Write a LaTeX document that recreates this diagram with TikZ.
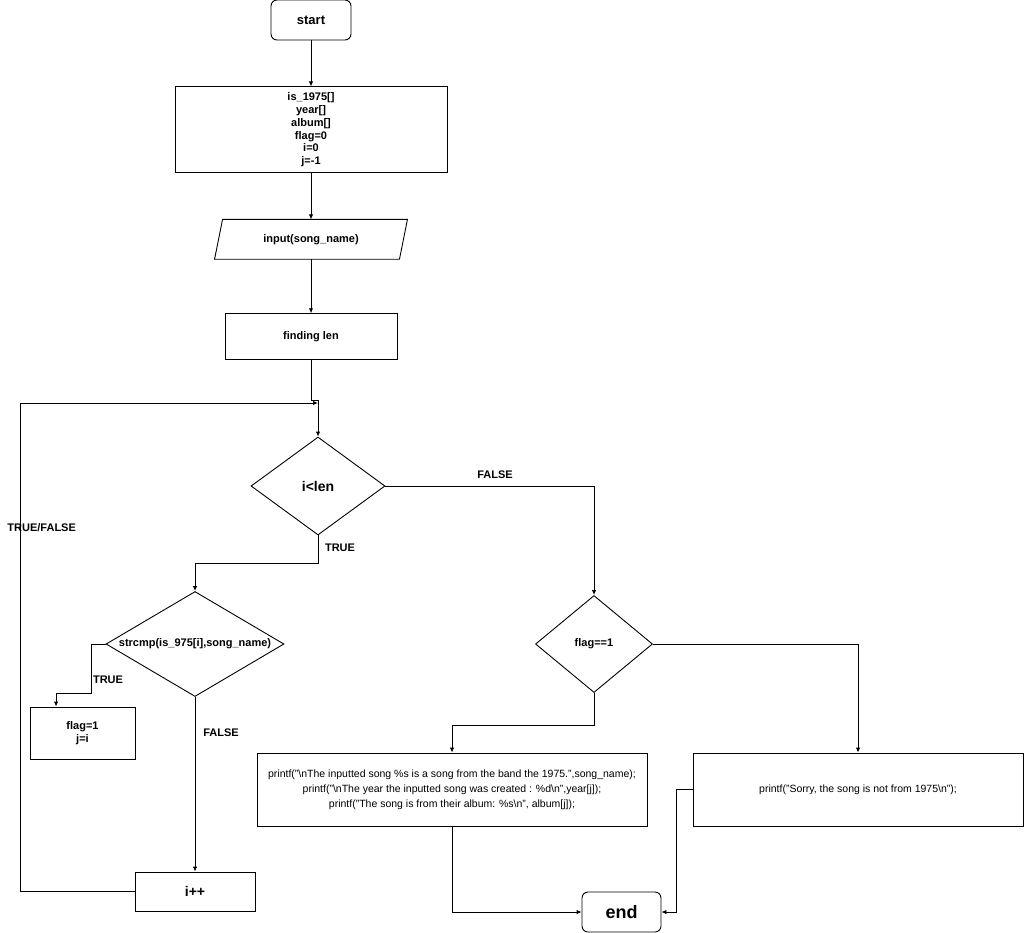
\documentclass[tikz,border=0pt]{standalone}
\usepackage{fontspec}
\setmainfont{Liberation Sans}
\usepackage{tikz}
\usetikzlibrary{arrows.meta, positioning, shapes.geometric, calc}

\newcommand{\fsz}[2]{\fontsize{#1}{#2}\selectfont}

\begin{document}
\begin{tikzpicture}[
  x=1pt, y=1pt,
  line width=0.9pt,
  box/.style={draw, align=center, inner sep=0pt, font=\fsz{11}{12.8}\bfseries},
  term/.style={draw, rounded corners=6pt, inner sep=0pt, font=\fsz{13}{15}\bfseries},
  io/.style={inner sep=0pt, font=\fsz{11}{12.8}\bfseries},
  decision/.style={draw, diamond, inner sep=0pt, font=\fsz{11}{12.8}\bfseries},
  msgbox/.style={draw, align=center, inner sep=0pt, font=\fsz{10.5}{15}},
  lbl/.style={inner sep=0pt, font=\fsz{11}{12.8}\bfseries},
  arrow/.style={-{Latex[length=5pt, width=4.5pt]}}
]
\useasboundingbox (0,0) rectangle (1024,-932);

% main column
\node[term, minimum width=80pt, minimum height=40pt] (start) at (311,-20) {start};
\node[box, minimum width=272pt, minimum height=86pt, below=46pt of start] (init) {is\_1975[]\\year[]\\album[]\\flag=0\\i=0\\j=-1};
\node[io, minimum width=192pt, minimum height=39pt, below=46pt of init] (input) {input(song\_name)};
\draw ($(input.north west)+(8,0)$) -- (input.north east) -- ($(input.south east)+(-8,0)$) -- (input.south west) -- cycle;
\node[box, minimum width=172pt, minimum height=46pt, below=54pt of input] (len) {finding len};

% loop
\node[decision, minimum width=134pt, minimum height=98pt, aspect=1.37] (cond) at (318,-486) {\fsz{14}{16}i<len};
\node[decision, minimum width=178pt, minimum height=105pt, aspect=1.7] (cmp) at (195,-644) {strcmp(is\_975[i],song\_name)};
\node[box, minimum width=105pt, minimum height=52pt] (set) at (82.5,-733) {flag=1\\j=i};
\node[box, minimum width=120pt, minimum height=39pt, font=\fsz{14}{16}\bfseries] (inc) at (195,-891.5) {i++};
\coordinate (loopin) at (318,-403);

% result
\node[decision, minimum width=117pt, minimum height=97pt, aspect=1.2] (chk) at (594,-644) {flag==1};
\node[msgbox, minimum width=390pt, minimum height=73pt] (msg) at (452,-789.5) {printf("\textbackslash nThe inputted song \%s is a song from the band the 1975.",song\_name);\\printf("\textbackslash nThe year the inputted song was created : \%d\textbackslash n",year[j]);\\printf("The song is from their album: \%s\textbackslash n", album[j]);};
\node[msgbox, minimum width=330pt, minimum height=73pt] (sorry) at (858,-789.5) {printf("Sorry, the song is not from 1975\textbackslash n");};
\node[term, minimum width=79pt, minimum height=40pt, font=\fsz{18}{20}\bfseries] (end) at (621.5,-912) {end};

\draw[arrow] (start) -- (init);
\draw[arrow] (init) -- (input);
\draw[arrow] (input) -- (len);
\draw[arrow] (len.south) -- ++(0,-40) -| (cond.north);
\draw[arrow] (inc.west) -- ++(-114,0) |- (loopin);
\draw[arrow] (cond.south) -- ++(0,-28) -| (cmp.north);
\draw[arrow] (cmp.west) -- ++(-14,0) -- ++(0,-49) -| ($(set.north west)!0.25!(set.north east)$);
\draw[arrow] (cmp.south) -- (inc.north);
\draw[arrow] (cond.east) -| (chk.north);
\draw[arrow] (chk.east) -| (sorry.north);
\draw[arrow] (chk.south) -- ++(0,-32) -| (msg.north);
\draw[arrow] (msg.south) |- (end.west);
\draw[arrow] (sorry.west) -- ++(-16,0) |- (end.east);

\node[lbl, anchor=west] (tf) at (7,-528) {TRUE/FALSE};
\node[lbl] (t1) at (340,-548) {TRUE};
\node[lbl] (t2) at (108,-680) {TRUE};
\node[lbl] (f1) at (221,-733) {FALSE};
\node[lbl] (f2) at (495,-475) {FALSE};
\end{tikzpicture}
\end{document}
